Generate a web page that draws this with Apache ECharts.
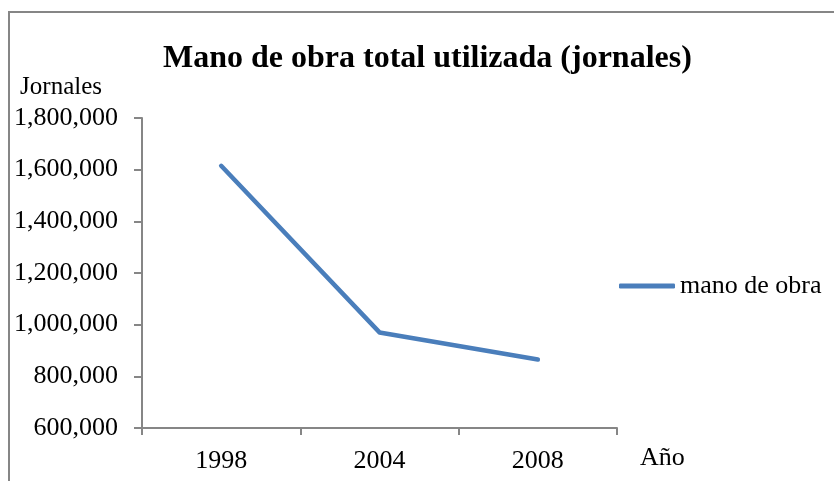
<!DOCTYPE html>
<html>
<head>
<meta charset="utf-8">
<script src="https://cdn.jsdelivr.net/npm/echarts@6/dist/echarts.min.js"></script>
<style>
html, body { margin: 0; padding: 0; background: #fff; }
#chart { width: 834px; height: 481px; }
</style>
</head>
<body>
<div id="chart"></div>
<script>
// datos
var years = ['1998', '2004', '2008'];
var manoDeObra = [1615000, 970000, 865000];
var yTicks = [600000, 800000, 1000000, 1200000, 1400000, 1600000, 1800000];

var serif = '"Liberation Serif", "Times New Roman", serif';
var axisGray = '#868686';

function fmt(v){
	return String(v).replace(/\B(?=(\d{3})+(?!\d))/g, ',');
}

var myChart = echarts.init(document.getElementById('chart'));
var option = {
	backgroundColor: '#fff',
	animation: false,
	title: {
		text: 'Mano de obra total utilizada (jornales)',
		left: 158,
		top: 38,
		textStyle: { fontFamily: serif, fontSize: 32, fontWeight: 'bold', color: '#000' }
	},
	graphic: [{
		type: 'rect',
		shape: { x: 9, y: 12, width: 900, height: 600 },
		style: { fill: 'none', stroke: axisGray, lineWidth: 2 },
		silent: true
	}],
	legend: {
		data: ['mano de obra'],
		left: 614,
		top: 268,
		icon: 'roundRect',
		itemWidth: 56,
		itemHeight: 5,
		textStyle: { fontFamily: serif, fontSize: 26, color: '#000' }
	},
	grid: { left: 142, right: 217, top: 118, bottom: 53 },
	xAxis: {
		type: 'category',
		data: years,
		boundaryGap: true,
		name: 'Año',
		nameLocation: 'end',
		nameGap: 23,
		nameTextStyle: { fontFamily: serif, fontSize: 26, color: '#000', verticalAlign: 'top', padding: [17, 0, 0, 0] },
		axisLine: { lineStyle: { color: axisGray, width: 2 } },
		axisTick: { show: true, length: 7, lineStyle: { color: axisGray, width: 2 } },
		axisLabel: { fontFamily: serif, fontSize: 26, color: '#000', margin: 20 },
		splitLine: { show: false }
	},
	yAxis: {
		type: 'value',
		min: yTicks[0],
		max: yTicks[yTicks.length - 1],
		interval: 200000,
		name: 'Jornales',
		nameLocation: 'end',
		nameGap: 18,
		nameTextStyle: { fontFamily: serif, fontSize: 25, color: '#000', align: 'right', padding: [0, 40, 0, 0] },
		axisLine: { show: true, lineStyle: { color: axisGray, width: 2 } },
		axisTick: { show: true, length: 8, lineStyle: { color: axisGray, width: 2 } },
		axisLabel: { fontFamily: serif, fontSize: 26, color: '#000', margin: 24, formatter: fmt },
		splitLine: { show: false }
	},
	series: [{
		name: 'mano de obra',
		type: 'line',
		data: manoDeObra,
		symbol: 'none',
		lineStyle: { color: '#4A7EBB', width: 4.5, cap: 'round', join: 'round' },
		itemStyle: { color: '#4A7EBB' }
	}]
};
myChart.setOption(option);
</script>
</body>
</html>
